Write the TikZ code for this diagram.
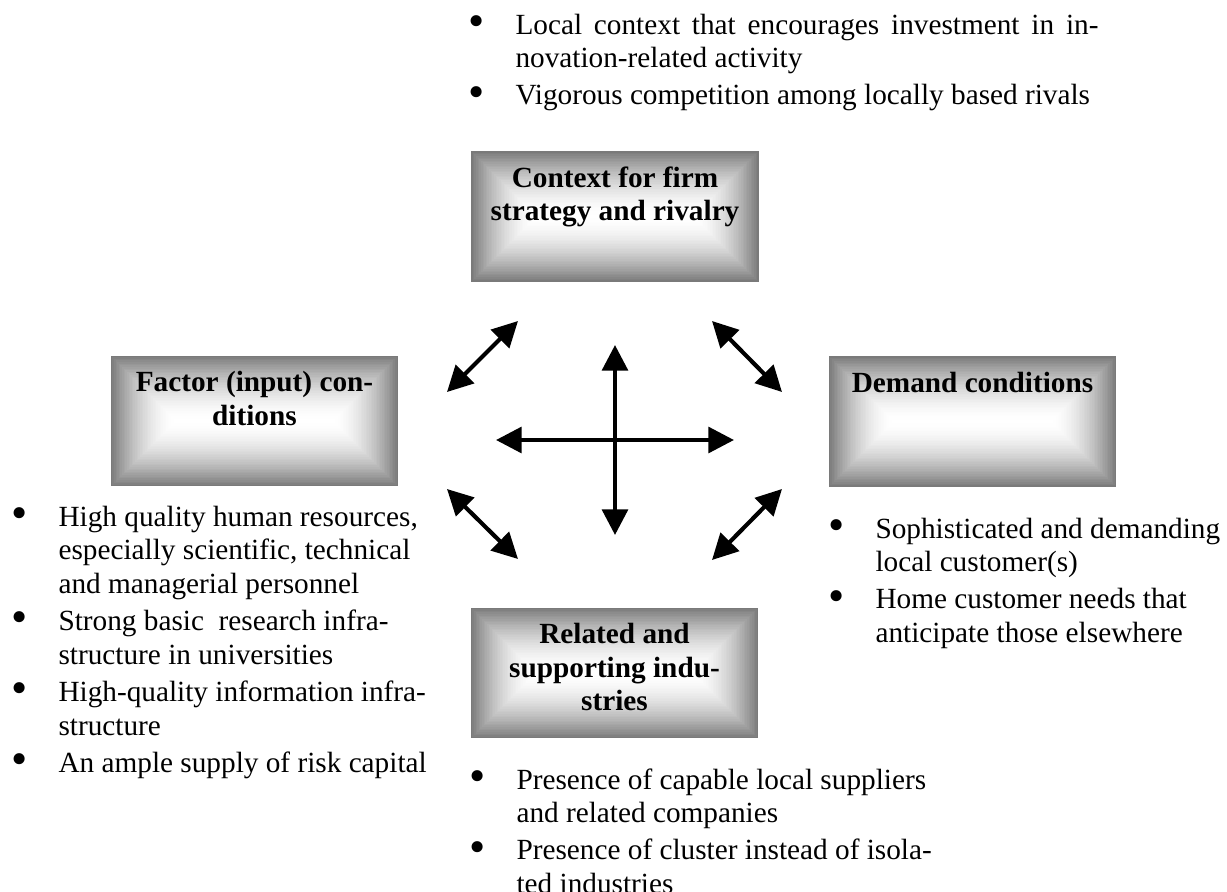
\documentclass[tikz,border=0pt]{standalone}
\usepackage{fontspec}
\setmainfont{Liberation Serif}
\usetikzlibrary{arrows.meta,calc}

\newcommand{\bul}{\makebox[19.7pt][l]{\hspace{0.6pt}\raisebox{-0.9pt}{\fontsize{19}{19}\selectfont\textbullet}}}

\tikzset{
  force box/.style={minimum width=118pt, minimum height=53.7pt, inner sep=0pt,
    path picture={
      \foreach \i in {0,...,40}{
        \pgfmathsetmacro\grayval{52*(1-\i/40)^1.8}
        \fill[black!\grayval]
          ($(path picture bounding box.south west)+(\i*0.67pt,\i*0.67pt)$) rectangle
          ($(path picture bounding box.north east)-(\i*0.67pt,\i*0.67pt)$);
      }
    }},
  box label/.style={font=\fontsize{12}{13.8}\selectfont\bfseries, inner sep=0pt, anchor=base},
  bullets/.style={inner sep=0pt, anchor=base west},
  link/.style={line width=1.7pt, {Triangle[length=10.5pt,width=10.5pt]}-{Triangle[length=10.5pt,width=10.5pt]}}
}

\begin{document}
\begin{tikzpicture}[x=0.41pt, y=-0.41pt, font=\fontsize{12}{13.8}\selectfont]
\useasboundingbox (0,0) rectangle (1227,892);

% boxes
\node[force box] (ctx) at (615,216.5) {};
\node[force box] (fac) at (254.5,421) {};
\node[force box] (dem) at (972.5,421.5) {};
\node[force box] (rel) at (614.5,673) {};

% box texts
\node[box label] (ctxtxt) at ([yshift=-15pt]ctx.north)
  {\begin{tabular}[t]{@{}c@{}}Context for firm\\strategy and rivalry\end{tabular}};
\node[box label] (factxt) at ([yshift=-15pt]fac.north)
  {\begin{tabular}[t]{@{}c@{}}Factor (input) con-\\ditions\end{tabular}};
\node[box label] (demtxt) at ([yshift=-15pt]dem.north)
  {\begin{tabular}[t]{@{}c@{}}Demand conditions\end{tabular}};
\node[box label] (reltxt) at ([yshift=-15pt]rel.north)
  {\begin{tabular}[t]{@{}c@{}}Related and\\supporting indu-\\stries\end{tabular}};

% bullet lists
\node[bullets] (ctxlist) at (467,34) {\begin{tabular}[t]{@{}l@{}l@{}}
\bul & \makebox[239pt][s]{Local context that encourages investment in in-}\\
     & novation-related activity\\[1.5pt]
\bul & Vigorous competition among locally based rivals
\end{tabular}};

\node[bullets] (faclist) at (10,526) {\begin{tabular}[t]{@{}l@{}l@{}}
\bul & High quality human resources,\\
     & especially scientific, technical\\
     & and managerial personnel\\[1.5pt]
\bul & Strong basic\ \ research infra-\\
     & structure in universities\\[1.5pt]
\bul & High-quality information infra-\\
     & structure\\[1.5pt]
\bul & An ample supply of risk capital
\end{tabular}};

\node[bullets] (demlist) at (827,538) {\begin{tabular}[t]{@{}l@{}l@{}}
\bul & Sophisticated and demanding\\
     & local customer(s)\\[1.5pt]
\bul & Home customer needs that\\
     & anticipate those elsewhere
\end{tabular}};

\node[bullets] (rellist) at (468,789) {\begin{tabular}[t]{@{}l@{}l@{}}
\bul & Presence of capable local suppliers\\
     & and related companies\\[1.5pt]
\bul & Presence of cluster instead of isola-\\
     & ted industries
\end{tabular}};

% arrow ends
\coordinate (vt) at (615,345);
\coordinate (vb) at (615,535);
\coordinate (hl) at (496,440);
\coordinate (hr) at (734,440);
\coordinate (ula) at (447,392);
\coordinate (ulb) at (518,321);
\coordinate (lla) at (447,489);
\coordinate (llb) at (518,559);
\coordinate (ura) at (712,321);
\coordinate (urb) at (782,392);
\coordinate (lra) at (782,489);
\coordinate (lrb) at (712,560);

% arrows
\draw[link] (vt) -- (vb);
\draw[link] (hl) -- (hr);
\draw[link] (ula) -- (ulb);
\draw[link] (lla) -- (llb);
\draw[link] (ura) -- (urb);
\draw[link] (lra) -- (lrb);

\end{tikzpicture}
\end{document}
